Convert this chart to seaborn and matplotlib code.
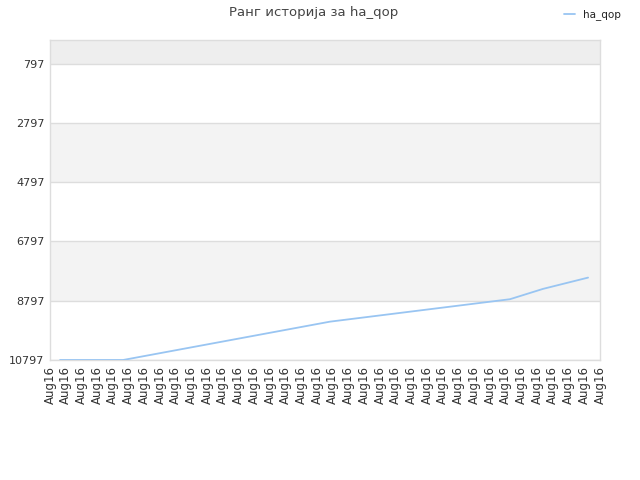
import matplotlib
matplotlib.use("Agg")
import matplotlib.pyplot as plt
import seaborn as sns
import pandas as pd

# Data (x in tick-index units, rank values)
x_pos = [0.64, 4.65, 17.82, 29.27, 31.37, 34.24]
rank = [10797, 10797, 9503, 8746, 8398, 8017]
tick_labels = ["Aug16"] * 36
y_ticks = [797, 2797, 4797, 6797, 8797, 10797]
series_name = "ha_qop"
title = "Ранг историја за ha_qop"

sns.set_theme(style="white")
plt.rcParams['font.family'] = ['DejaVu Sans']

fig = plt.figure(figsize=(6.4, 4.8), dpi=100)
ax = fig.add_axes([50/640, 120/480, 550/640, 320/480])

df = pd.DataFrame({"x": x_pos, "rank": rank, "series": series_name})

# background bands
ax.axhspan(0, y_ticks[0], color="#eeeeee", zorder=0, lw=0)
for i in range(1, len(y_ticks) - 1, 2):
    ax.axhspan(y_ticks[i], y_ticks[i + 1], color="#f3f3f3", zorder=0, lw=0)

sns.lineplot(data=df, x="x", y="rank", hue="series", palette=["#99c5f2"],
             linewidth=1.3, ax=ax, zorder=3)

for yt in y_ticks:
    ax.axhline(yt, color="#dddddd", lw=1, zorder=1)

ax.set_ylim(y_ticks[-1], 0)
ax.set_xlim(0, len(tick_labels) - 1)
ax.set_yticks(y_ticks)
ax.set_yticklabels([str(v) for v in y_ticks], fontsize=8, color="#333333")
ax.set_xticks(range(len(tick_labels)))
ax.set_xticklabels(tick_labels, rotation=90, fontsize=8.5, color="#333333")
ax.tick_params(axis="both", length=0, pad=4)
ax.set_xlabel("")
ax.set_ylabel("")
for s in ax.spines.values():
    s.set_color("#dddddd")
    s.set_linewidth(1)

fig.suptitle(title, x=0.49, y=0.988, fontsize=9.5, color="#444444")

leg = ax.legend(loc="upper right", bbox_to_anchor=(1.055, 1.125), frameon=False,
                fontsize=7.5, handlelength=1.0, handletextpad=0.8)
for t in leg.get_texts():
    t.set_color("#222222")

fig.savefig("out.png", dpi=100)
